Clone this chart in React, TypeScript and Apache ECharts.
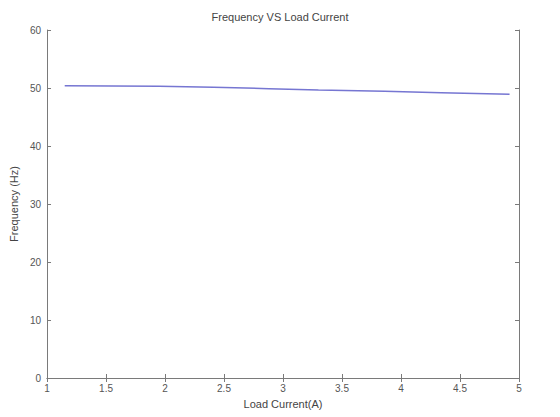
import React, { useEffect, useRef } from "react";
import * as echarts from "echarts";

const loadCurrent = [1.15, 1.95, 2.41, 2.88, 3.3, 3.86, 4.34, 4.92];
const frequency = [50.4, 50.29, 50.12, 49.89, 49.66, 49.43, 49.2, 48.91];

const titleText = "Frequency VS Load Current";
const xName = "Load Current(A)";
const yName = "Frequency (Hz)";

export default function App() {
  const ref = useRef<HTMLDivElement>(null);
  useEffect(() => {
    const chart = echarts.init(ref.current!, null, { renderer: "svg" });
    const axisLine = { show: true, lineStyle: { color: "#7a7a7a", width: 1 } };
    const tick = { show: true, inside: true, length: 4, lineStyle: { color: "#7a7a7a" } };
    const label = { color: "#555", fontSize: 10, fontFamily: "Liberation Sans, Arial, sans-serif" };
    chart.setOption({
      animation: false,
      backgroundColor: "#fff",
      title: {
        text: titleText,
        left: "center",
        top: 6,
        textStyle: { color: "#444", fontSize: 11, fontWeight: "normal", fontFamily: "Liberation Sans, Arial, sans-serif" },
      },
      grid: { left: 42, right: 41, top: 30, bottom: 39, containLabel: false },
      xAxis: [
        {
          type: "value",
          min: 1,
          max: 5,
          interval: 0.5,
          position: "bottom",
          axisLine,
          axisTick: tick,
          splitLine: { show: false },
          axisLabel: { ...label, margin: 5 },
          name: xName,
          nameLocation: "middle",
          nameGap: 20,
          nameTextStyle: { color: "#444", fontSize: 11, fontFamily: "Liberation Sans, Arial, sans-serif" },
        },
        {
          type: "value",
          min: 1,
          max: 5,
          interval: 0.5,
          position: "top",
          axisLine,
          axisTick: tick,
          splitLine: { show: false },
          axisLabel: { show: false },
        },
      ],
      yAxis: [
        {
          type: "value",
          min: 0,
          max: 60,
          interval: 10,
          position: "left",
          axisLine,
          axisTick: tick,
          splitLine: { show: false },
          axisLabel: { ...label, margin: 6 },
          name: yName,
          nameLocation: "middle",
          nameGap: 21,
          nameTextStyle: { color: "#444", fontSize: 11, fontFamily: "Liberation Sans, Arial, sans-serif" },
        },
        {
          type: "value",
          min: 0,
          max: 60,
          interval: 10,
          position: "right",
          axisLine,
          axisTick: tick,
          splitLine: { show: false },
          axisLabel: { show: false },
        },
      ],
      series: [
        {
          type: "line",
          data: loadCurrent.map((x, i) => [x, frequency[i]]),
          xAxisIndex: 0,
          yAxisIndex: 0,
          showSymbol: false,
          symbol: "none",
          lineStyle: { color: "#7676d2", width: 1.5 },
        },
      ],
    });
    return () => chart.dispose();
  }, []);
  return <div ref={ref} style={{ width: 560, height: 417, position: "absolute", left: 0, top: 0 }} />;
}
